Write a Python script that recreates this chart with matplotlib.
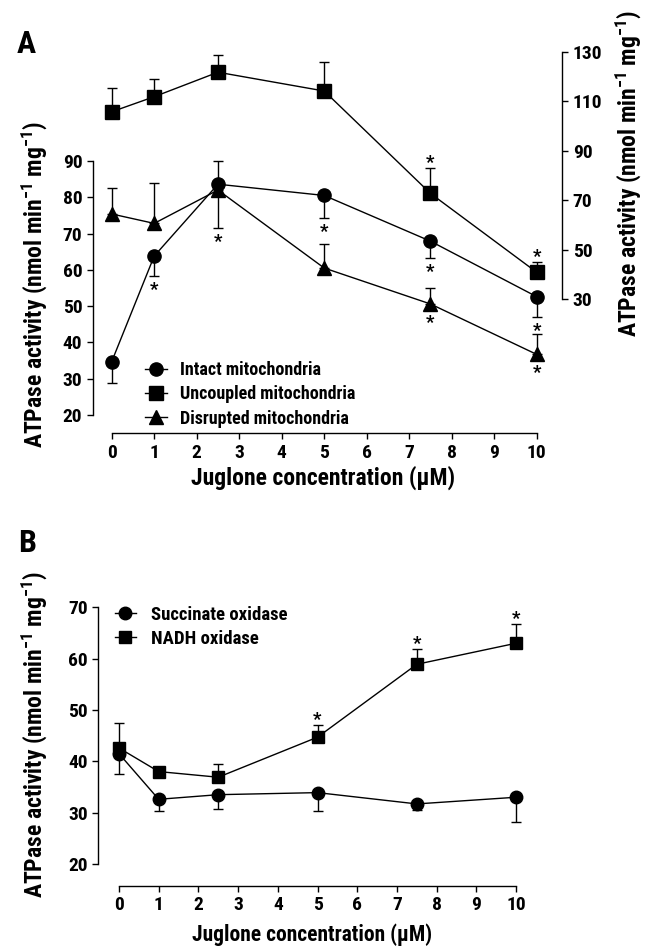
import matplotlib
matplotlib.use("Agg")
import matplotlib.pyplot as plt
from matplotlib.lines import Line2D

plt.rcParams["font.family"] = ["Roboto Condensed", "Liberation Sans Narrow", "Liberation Sans", "DejaVu Sans"]
plt.rcParams["font.weight"] = "bold"
plt.rcParams["mathtext.default"] = "regular"
plt.rcParams["axes.linewidth"] = 1.0

# ---- data, panel A ----
conc = [0, 1, 2.5, 5, 7.5, 10]
intact = [34.7, 63.8, 83.6, 80.5, 67.9, 52.6]
intact_lo = [5.9, 5.4, 0, 6.1, 4.7, 5.5]
intact_hi = [0, 0, 6.4, 0, 0, 0]
disrupted = [75.4, 72.8, 82.0, 60.5, 50.6, 36.7]
disrupted_lo = [0, 0, 10.6, 0, 0, 0]
disrupted_hi = [7.1, 11.2, 0, 6.6, 4.5, 5.6]
uncoupled = [105.7, 111.8, 121.7, 114.1, 72.7, 40.8]
uncoupled_lo = [0, 0, 0, 0, 0, 0]
uncoupled_hi = [9.7, 7.2, 7.0, 11.9, 10.4, 4.3]
# significance marks: (index, side)
intact_sig = [(1, "below"), (3, "below"), (4, "below"), (5, "below")]
disrupted_sig = [(2, "below"), (4, "below"), (5, "below")]
uncoupled_sig = [(4, "above"), (5, "above")]

# ---- data, panel B ----
succinate = [41.5, 32.6, 33.5, 33.9, 31.7, 33.0]
succinate_lo = [4.0, 2.2, 2.8, 3.5, 1.2, 4.9]
succinate_hi = [0, 0, 0, 0, 0, 0]
nadh = [42.6, 38.0, 36.9, 44.7, 58.9, 63.0]
nadh_lo = [0, 0, 0, 0, 0, 0]
nadh_hi = [4.9, 0, 2.5, 2.4, 3.0, 3.7]
nadh_sig = [(3, "above"), (4, "above"), (5, "above")]

xticks = list(range(11))
ylabel = "ATPase activity (nmol min$^{-1}$ mg$^{-1}$)"
xlabel = "Juglone concentration (\u00b5M)"

W, H = 654, 947
fig = plt.figure(figsize=(W / 100, H / 100), dpi=100)


def fx(px):
    return px / W


def fy(py):
    return 1 - py / H


def series(ax, y, lo, hi, marker, ms, label):
    ax.errorbar(conc, y, yerr=[lo, hi], fmt="none", ecolor="black",
                elinewidth=1.0, capsize=3.6, capthick=1.0, zorder=2)
    ax.plot(conc, y, "-", color="black", lw=1.0, marker=marker, ms=ms,
            mfc="black", mec="black", zorder=3, label=label)


def stars(ax, y, lo, hi, sig):
    for i, side in sig:
        if side == "above":
            yy = y[i] + hi[i]
            off = 3.5
        else:
            yy = y[i] - lo[i]
            # no lower bar: clear the marker itself
            off = -10 if lo[i] > 0 else -13.5
        ax.annotate("*", xy=(conc[i], yy), xytext=(0, off),
                    textcoords="offset points", ha="center", va="center",
                    fontsize=13.5, fontweight="bold")


def style(ax, ylo, yhi):
    ax.spines["top"].set_visible(False)
    ax.spines["right"].set_visible(False)
    ax.spines["left"].set_bounds(ylo, yhi)
    ax.spines["bottom"].set_bounds(0, 10)
    ax.set_xticks(xticks)
    ax.tick_params(direction="out", length=4, width=1.0, labelsize=14)


# ---- panel A ----
axA = fig.add_axes([fx(92.7), fy(433.3), fx(562.3 - 92.7), (433.3 - 40) / H])
axA.set_xlim(-0.447, 10.602)
axA.set_ylim(14.96, 123.34)
style(axA, 20, 90)
axA.set_yticks(range(20, 91, 10))

axR = axA.twinx()
axR.set_ylim(-24.3, 134.73)
for s in ("left", "top", "bottom"):
    axR.spines[s].set_visible(False)
axR.spines["right"].set_bounds(30, 130)
axR.set_yticks(range(30, 131, 20))
axR.tick_params(direction="out", length=4, width=1.0, labelsize=14)

series(axA, intact, intact_lo, intact_hi, "o", 9.5, "Intact mitochondria")
series(axA, disrupted, disrupted_lo, disrupted_hi, "^", 10.5, "Disrupted mitochondria")
series(axR, uncoupled, uncoupled_lo, uncoupled_hi, "s", 9.5, "Uncoupled mitochondria")
stars(axA, intact, intact_lo, intact_hi, intact_sig)
stars(axA, disrupted, disrupted_lo, disrupted_hi, disrupted_sig)
stars(axR, uncoupled, uncoupled_lo, uncoupled_hi, uncoupled_sig)

hA = [Line2D([], [], color="black", lw=1.0, marker=m, ms=ms)
      for m, ms in (("o", 9.5), ("s", 9.5), ("^", 10.5))]
axR.legend(hA, ["Intact mitochondria", "Uncoupled mitochondria", "Disrupted mitochondria"],
           loc="upper left", bbox_to_anchor=(fx(144.5), fy(361)),
           bbox_transform=fig.transFigure, frameon=False, fontsize=13,
           handlelength=1.27, handletextpad=0.69, labelspacing=0.35,
           borderpad=0, borderaxespad=0)

fig.text(fx(26), fy(44), "A", fontsize=23, fontweight="bold", ha="center", va="center")
fig.text(fx(34.5), fy(285), ylabel, rotation=90, fontsize=17,
         ha="center", va="center")
fig.text(fx(628), fy(174), ylabel, rotation=90, fontsize=17,
         ha="center", va="center")
fig.text(fx(323), fy(478), xlabel, fontsize=17, ha="center", va="center")

# ---- panel B ----
axB = fig.add_axes([fx(98.3), fy(885.7), fx(530 - 98.3), (885.7 - 590) / H])
axB.set_xlim(-0.52, 10.35)
axB.set_ylim(15.77, 73.37)
style(axB, 20, 70)
axB.set_yticks(range(20, 71, 10))

series(axB, succinate, succinate_lo, succinate_hi, "o", 9, "Succinate oxidase")
series(axB, nadh, nadh_lo, nadh_hi, "s", 9, "NADH oxidase")
stars(axB, nadh, nadh_lo, nadh_hi, nadh_sig)

hB = [Line2D([], [], color="black", lw=1.0, marker=m, ms=9) for m in ("o", "s")]
axB.legend(hB, ["Succinate oxidase", "NADH oxidase"],
           loc="upper left", bbox_to_anchor=(fx(115), fy(606)),
           bbox_transform=fig.transFigure, frameon=False, fontsize=13.5,
           handlelength=1.1, handletextpad=0.8, labelspacing=0.32,
           borderpad=0, borderaxespad=0)

fig.text(fx(27), fy(543), "B", fontsize=23, fontweight="bold", ha="center", va="center")
fig.text(fx(34.5), fy(735), ylabel, rotation=90, fontsize=17,
         ha="center", va="center")
fig.text(fx(312), fy(935), xlabel, fontsize=15.5, ha="center", va="center")

fig.savefig("out.png", dpi=100)
